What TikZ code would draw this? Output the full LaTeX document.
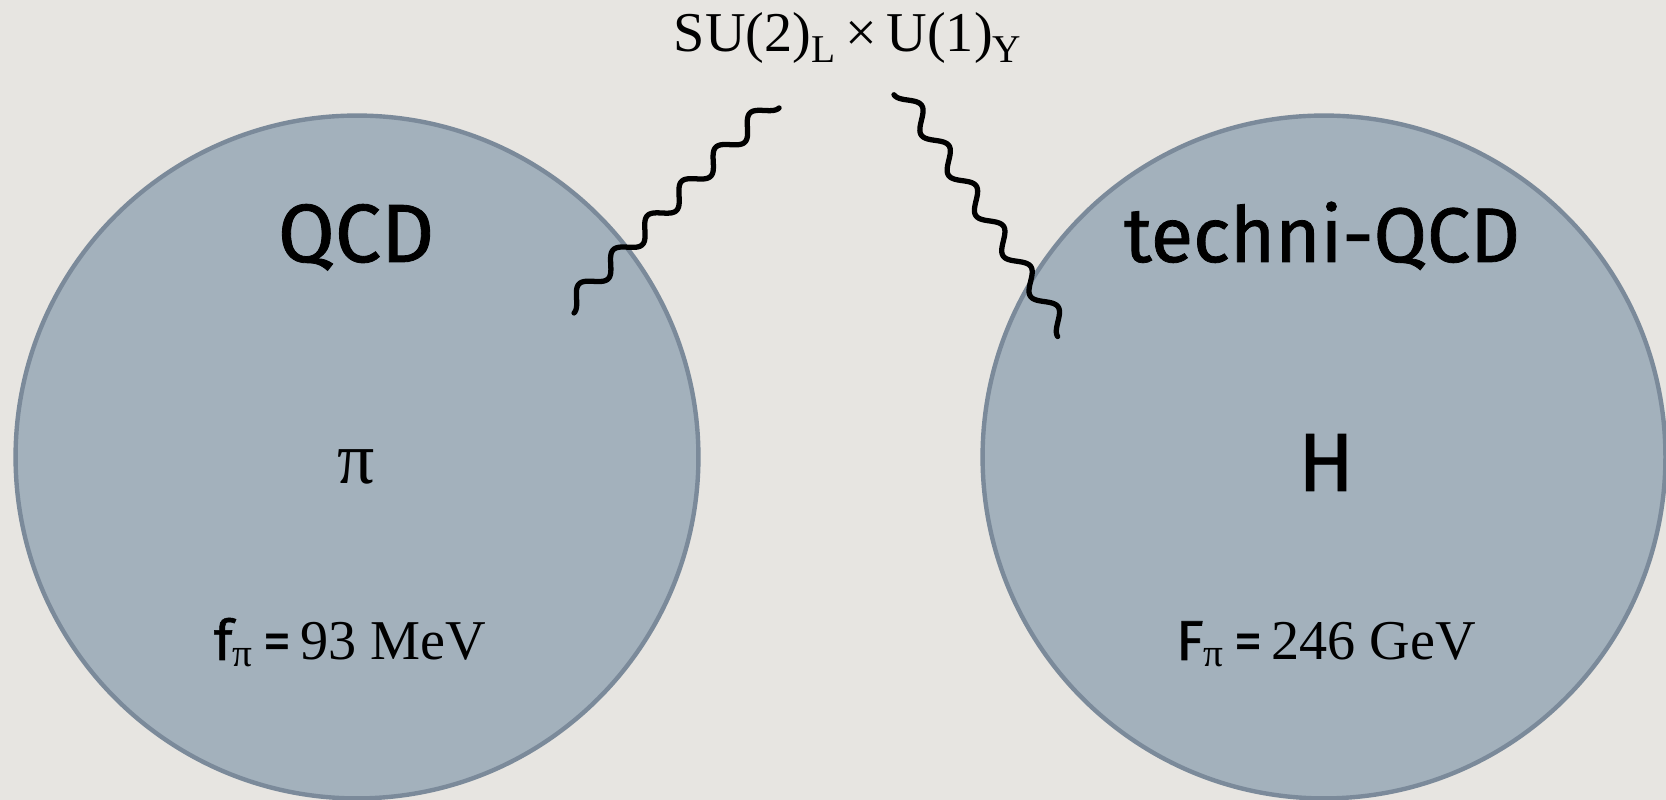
\documentclass[tikz,border=0pt]{standalone}
\usepackage{fontspec}
\setmainfont{Liberation Serif}
\newfontfamily\handfont{Fira Sans}[FakeBold=1]
\usetikzlibrary{positioning}

\definecolor{paper}{HTML}{E7E5E1}
\definecolor{blobfill}{HTML}{A3B1BC}
\definecolor{blobedge}{HTML}{7B8A9A}

\begin{document}
\begin{tikzpicture}[
    x=0.02cm, y=0.02cm,
    blob/.style={circle, draw=blobedge, fill=blobfill, line width=2.5pt, minimum size=13.66cm, inner sep=0pt},
    hand/.style={font=\handfont\fontsize{47}{50}\selectfont, anchor=base, inner sep=0pt},
    particle/.style={anchor=base, inner sep=0pt},
    val/.style={font=\fontsize{32}{36}\selectfont, anchor=base, inner sep=0pt},
    photon/.style={line width=3pt, line cap=round, line join=round}
]
% paper
\fill[paper] (0,0) rectangle (1666,800);
\useasboundingbox (0,0) rectangle (1666,800);

% the two strongly coupled sectors
\node[blob] (qcd) at (357,343) {};
\node[blob] (tqcd) at (1324,343) {};

% names
\node[hand] (qcdname) at (356,538) {QCD};
\node[hand, font=\handfont\fontsize{44}{48}\selectfont] (tqcdname) at (1322,538) {techni-QCD};

% bound states
\node[particle, font=\fontsize{42}{44}\selectfont] (pion) at (356,316) {π};
\node[particle, font=\handfont\fontsize{47}{50}\selectfont] (higgs) at (1326,309) {H};

% decay constants
\node[val] (fpi) at (350,140) {{\handfont f}\textsubscript{π}\,{\handfont =}\,93 MeV};
\node[val] (bigfpi) at (1326,140) {{\handfont F}\textsubscript{π}\,{\handfont =}\,246 GeV};

% gauge group
\node[val] (gauge) at (848,748) {SU(2)\textsubscript{L}\,×\,U(1)\textsubscript{Y}};

% gauge bosons
\coordinate (gL) at (568,493);
\coordinate (gR) at (901,710);
\begin{scope}[shift={(gL)}, rotate=45]
  \draw[photon] plot[domain=0:290, samples=240, smooth] (\x, {8.5*sin(360*(\x/48.33)-90)});
\end{scope}
\begin{scope}[shift={(gR)}, rotate=-55.9]
  \draw[photon] plot[domain=0:292, samples=240, smooth] (\x, {8.5*sin(360*(\x/48.67)-90)});
\end{scope}

\end{tikzpicture}
\end{document}
